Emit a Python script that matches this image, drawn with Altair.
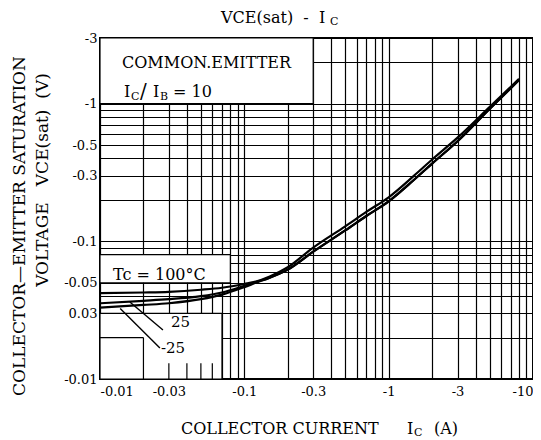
import altair as alt
import pandas as pd

# |Collector current| (A) -- the axis shows them as negative values
ic = [0.01, 0.02, 0.03, 0.05, 0.07, 0.1, 0.12, 0.15, 0.2, 0.3, 0.5, 0.7, 1, 1.5, 2, 3, 5, 8]
# |VCE(sat)| (V) for each case temperature
v_100 = [0.042, 0.0425, 0.043, 0.0445, 0.046, 0.049, 0.051, 0.0556, 0.0648, 0.090, 0.1285,
         0.1635, 0.209, 0.300, 0.393, 0.5665, 0.944, 1.515]
v_25 = [0.0355, 0.037, 0.038, 0.040, 0.0425, 0.0475, 0.0505, 0.0545, 0.0623, 0.0841, 0.120,
        0.1527, 0.1952, 0.2802, 0.3671, 0.534, 0.916, 1.485]
v_m25 = [0.033, 0.0345, 0.0355, 0.038, 0.041, 0.0465, 0.050, 0.0545, 0.0623, 0.0841, 0.120,
         0.1527, 0.1952, 0.2802, 0.3671, 0.534, 0.916, 1.485]
tc_names = ["100", "25", "-25"]

x_major = [0.01, 0.03, 0.1, 0.3, 1, 3, 10]
y_major = [0.01, 0.03, 0.05, 0.1, 0.3, 0.5, 1, 3]

x_grid = sorted({round(d * 10.0 ** k, 6) for k in (-2, -1, 0) for d in range(1, 10)} | {10})
y_grid = sorted(v for v in {round(d * 10.0 ** k, 6) for k in (-2, -1, 0) for d in range(1, 10)} if v <= 3)

# blanked (white) boxes of the printed grid
box_i0 = [0.01, 0.01, 0.01]
box_i1 = [0.3, 0.08, 0.07]
box_v0 = [1.0, 0.05, 0.01]
box_v1 = [3.0, 0.08, 0.03]

# remaining partial grid lines inside the lower-left blank box
seg_i0 = [0.01, 0.02, 0.03, 0.04, 0.05, 0.06]
seg_i1 = [0.02, 0.02, 0.03, 0.04, 0.05, 0.06]
seg_v0 = [0.02, 0.01, 0.01, 0.01, 0.01, 0.01]
seg_v1 = [0.02, 0.02, 0.013, 0.013, 0.013, 0.013]

# leader lines for the "25" and "-25" labels
lead_i0 = [0.0161, 0.0138]
lead_i1 = [0.0273, 0.026]
lead_v0 = [0.0362, 0.0325]
lead_v1 = [0.0227, 0.0168]

rows = []
for name, vs in zip(tc_names, [v_100, v_25, v_m25]):
    for i, v in zip(ic, vs):
        rows.append({"ic": i, "v": v, "tc": name})
curves = pd.DataFrame(rows)

FONT = "DejaVu Serif"
SP = "\u00a0"

xs = alt.Scale(type="log", domain=[0.01, 10], nice=False)
ys = alt.Scale(type="log", domain=[0.01, 3], nice=False)

x_lab = "[" + ",".join(str(v) for v in x_major) + "]"
y_lab = "[" + ",".join(str(v) for v in y_major) + "]"

xaxis = alt.Axis(values=x_grid, format="~g", title=None,
                 labelExpr=f"indexof({x_lab}, datum.value) >= 0 ? '-' + datum.label : ''",
                 grid=True, gridColor="black", gridWidth=1.2, gridOpacity=1,
                 domain=False, ticks=False, labelOverlap=False, labelFlush=True,
                 labelFont=FONT, labelFontSize=13, labelFontWeight="normal",
                 labelColor="black", labelPadding=6)
yaxis = alt.Axis(values=y_grid, format="~g", title=None,
                 labelExpr=f"datum.value == 0.03 ? '0.03' : (indexof({y_lab}, datum.value) >= 0 ? '-' + datum.label : '')",
                 grid=True, gridColor="black", gridWidth=1.2, gridOpacity=1,
                 domain=False, ticks=False, labelOverlap=False,
                 labelFont=FONT, labelFontSize=13, labelFontWeight="normal",
                 labelColor="black", labelPadding=3)

boxes = pd.DataFrame({"i0": box_i0, "i1": box_i1, "v0": box_v0, "v1": box_v1})
rects = alt.Chart(boxes).mark_rect(fill="white", stroke="black", strokeWidth=1.2).encode(
    x=alt.X("i0:Q", scale=xs, axis=xaxis), x2="i1:Q",
    y=alt.Y("v0:Q", scale=ys, axis=yaxis), y2="v1:Q")

segs = pd.DataFrame({"i0": seg_i0, "i1": seg_i1, "v0": seg_v0, "v1": seg_v1})
seg_layer = alt.Chart(segs).mark_rule(color="black", strokeWidth=1.2).encode(
    x=alt.X("i0:Q", scale=xs, axis=xaxis), x2="i1:Q",
    y=alt.Y("v0:Q", scale=ys, axis=yaxis), y2="v1:Q")

leads = pd.DataFrame({"i0": lead_i0, "i1": lead_i1, "v0": lead_v0, "v1": lead_v1})
lead_layer = alt.Chart(leads).mark_rule(color="black", strokeWidth=1.4).encode(
    x=alt.X("i0:Q", scale=xs, axis=xaxis), x2="i1:Q",
    y=alt.Y("v0:Q", scale=ys, axis=yaxis), y2="v1:Q")

lines = alt.Chart(curves).mark_line(color="black", strokeWidth=2.2, interpolate="monotone").encode(
    x=alt.X("ic:Q", scale=xs, axis=xaxis),
    y=alt.Y("v:Q", scale=ys, axis=yaxis),
    detail="tc:N")

one = pd.DataFrame({"a": [0]})


def txt(text, x, y, size, weight="normal", align="left", angle=0):
    return alt.Chart(one).mark_text(text=text, font=FONT, fontSize=size, fontWeight=weight,
                                    align=align, baseline="middle", angle=angle,
                                    color="black").encode(x=alt.value(x), y=alt.value(y))


texts = [
    # title
    txt(f"VCE(sat){SP}{SP}-{SP}{SP}I", 121, -20, 16),
    txt("C", 230, -16, 11),
    # in-plot annotations
    txt("COMMON.EMITTER", 22, 25, 16),
    txt("I", 24, 54, 16),
    txt("C", 31, 59, 11),
    txt("/", 40, 54, 20),
    txt("I", 53, 54, 16),
    txt("B", 60, 59, 11),
    txt(f"={SP}10", 73, 54, 16),
    txt(f"Tc{SP}={SP}100°C", 13, 237, 16),
    txt("25", 71, 284, 15),
    txt("-25", 61, 310, 15),
    # x title
    txt("COLLECTOR CURRENT", 81, 391, 16),
    txt("I", 307, 391, 16),
    txt("C", 314, 395, 11),
    txt("(A)", 334, 391, 16),
    # y title (two lines)
    txt("COLLECTOR—EMITTER SATURATION", -80, 188, 17, align="center", angle=270),
    txt(f"VOLTAGE{SP}{SP}{SP}VCE(sat){SP}{SP}(V)", -57, 142, 17, align="center", angle=270),
]

chart = alt.layer(rects, seg_layer, lead_layer, lines, *texts).properties(
    width=433, height=341,
    autosize=alt.AutoSizeParams(type="none"),
    padding={"left": 92, "top": 30, "right": 0, "bottom": 61},
    background="white",
).configure_view(stroke="black", strokeWidth=2)

chart.save("out.html", embed_options={"renderer": "svg", "actions": False})
